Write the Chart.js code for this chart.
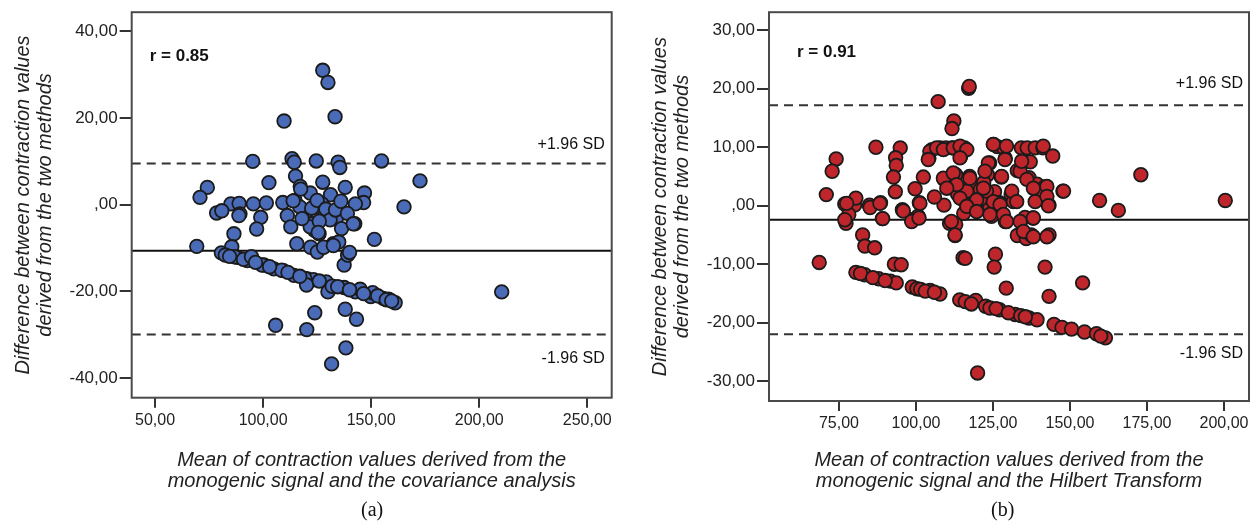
<!DOCTYPE html>
<html><head><meta charset="utf-8">
<script src="https://cdn.jsdelivr.net/npm/chart.js@4"></script>
<style>
body{margin:0;background:#fff;width:1260px;height:531px;overflow:hidden;position:relative;font-family:"Liberation Sans",Arial,sans-serif}
canvas{position:absolute;top:0}
#ca{left:0}
#cb{left:630px}
.cap{position:absolute;top:498px;font-family:"Liberation Serif","Times New Roman",serif;font-size:20px;color:#111}
</style></head><body>
<canvas id="ca" width="630" height="500"></canvas>
<canvas id="cb" width="630" height="500"></canvas>
<div class="cap" style="left:361px">(a)</div>
<div class="cap" style="left:991px">(b)</div>
<script>
// ---------- Panel (a) data ----------
const xValuesA = [127.6,130.0,109.7,133.3,95.2,113.4,114.4,124.6,134.7,135.5,154.8,172.6,115.0,117.2,121.8,127.6,131.2,138.0,146.9,146.5,142.7,165.2,102.7,74.2,70.8,85.1,88.9,95.5,101.5,109.1,114.8,127.2,78.5,80.9,89.3,86.5,98.9,97.0,69.3,80.7,85.5,88.1,92.7,100.4,105.0,109.4,114.3,120.5,123.3,105.8,120.2,123.9,111.2,112.8,115.6,122.0,117.4,119.7,122.8,123.8,86.8,88.8,90.9,94.6,99.5,108.6,119.3,120.1,125.1,121.8,125.9,128.4,129.2,130.0,132.5,132.0,134.2,135.0,136.3,137.5,137.5,139.1,142.4,142.7,144.9,149.8,150.7,151.5,155.6,158.1,161.1,138.0,143.2,138.3,131.7,210.4,82.5,84.5,96.5,103.0,111.5,117.0,126.0,134.5,140.0,146.5,153.0,157.0,159.5,117.0,122.5,125.0,129.0,131.0,133.5,136.0,139.0,126.0,118.0,128.0,140.0,113.9,125.5,132.5,141.7];
const yValuesA = [31.0,28.2,19.3,20.3,10.0,10.6,9.8,10.1,9.8,8.6,10.1,5.5,6.6,4.2,2.7,5.2,2.3,4.0,2.7,0.5,0.2,-0.5,5.1,4.0,1.7,0.2,0.3,0.2,0.4,0.5,1.0,0.2,-1.9,-1.4,-2.1,-6.7,-2.9,-5.6,-9.6,-11.1,-9.7,-12.1,-12.9,-13.9,-14.8,-15.2,-16.3,-17.1,-17.3,-27.8,-28.8,-24.9,-2.5,-5.1,-9.0,-9.8,3.6,-1.8,-4.4,-5.9,-12.0,-2.5,-12.6,-12.0,-13.9,-15.1,-17.0,-18.5,-10.9,-5.1,-6.7,-2.5,-17.8,-20.1,-9.0,-18.8,-2.8,-8.6,-5.5,-19.1,-13.9,-11.6,-4.4,-20.1,-19.5,-21.2,-20.3,-8.0,-21.6,-21.8,-22.6,-24.1,-26.4,-33.0,-36.7,-20.1,-11.6,-11.9,-13.3,-14.3,-15.6,-16.5,-17.6,-18.9,-19.6,-20.5,-21.0,-21.9,-22.2,-0.5,-0.8,1.0,-1.0,-3.5,-1.2,0.8,-2.0,-3.8,-3.2,-9.8,-11.0,0.9,-6.4,-9.4,-4.4];
const meanA = -10.6, upperA = 9.5, lowerA = -29.9;
const xRangeA = [39.2, 261.3], yRangeA = [-44.5, 44.4];
const xTicksA = [50,100,150,200,250];
const yTicksA = [-40,-20,0,20,40];

// ---------- Panel (b) data ----------
const xValuesB = [107.2,117.1,117.3,112.3,111.7,173.0,200.4,159.6,165.7,147.7,74.1,72.8,70.9,87.0,94.9,93.4,93.6,92.7,93.3,99.7,102.4,104.2,105.2,107.8,109.7,111.7,114.2,114.5,115.8,109.1,112.9,111.7,117.4,118.1,120.9,123.2,123.9,125.2,126.4,128.4,129.0,127.7,125.5,130.9,132.9,134.8,137.1,134.2,136.1,138.7,141.2,144.4,136.7,139.3,141.8,141.2,143.2,138.7,131.6,127.1,119.4,115.4,109.1,101.1,95.6,88.5,84.9,80.1,76.9,80.5,68.6,77.3,78.2,82.7,83.4,86.6,89.1,93.0,95.2,98.8,100.7,110.9,112.7,112.9,115.3,116.0,124.5,125.8,125.4,129.3,129.0,132.9,135.8,137.4,138.0,135.4,141.9,143.2,143.2,154.1,120.0,120.0,115.5,118.1,124.0,113.5,116.5,121.0,122.0,106.0,80.5,83.4,87.9,91.7,93.6,98.8,100.3,104.6,107.8,114.2,119.4,122.6,127.1,132.2,136.7,139.3,144.8,147.4,150.5,154.7,158.6,161.5,82.0,86.0,90.0,101.5,103.0,106.0,116.0,118.0,124.0,126.0,130.0,134.0,135.5,160.0,
  101.3,95.9,98.6,101.0,77.5,85.1,88.3,89.2,76.9,104.5,106.7,108.9,112.1,114.3,116.5,104.0,114.3,108.9,112.1,113.2,117.5,110.0,114.3,119.7,116.5,119.7,122.9,125.1,127.3,124.0,128.4,121.9,123.5,122.4,127.8,128.9,133.8,134.3,136.0,131.1,132.7,138.1,142.5,142.5,147.9,143.0,138.1,133.8,134.9,138.1,142.5,129.4,111.5,112.7,125.1,129.4,141.3];
const yValuesB = [17.8,20.1,20.4,14.5,13.2,5.3,0.9,0.9,-0.8,2.5,8.0,5.9,1.9,10.0,9.9,8.2,6.9,4.9,2.4,2.9,4.9,8.1,9.6,9.9,9.9,9.9,9.9,8.4,9.9,4.5,5.3,3.7,5.0,3.7,2.8,5.3,7.3,10.5,10.1,9.9,8.1,4.9,2.4,1.9,6.0,7.6,7.5,9.9,9.9,9.9,9.9,8.5,4.8,3.7,3.2,1.9,0.1,0.7,0.7,0.5,0.7,1.0,0.1,0.5,-0.7,0.5,0.1,0.1,0.3,1.3,-9.7,-3.0,-1.5,-5.0,-6.9,-7.2,-2.2,-10.0,-10.1,-2.4,-1.8,-3.0,-5.1,-3.2,-8.9,-9.0,-1.8,-8.3,-10.5,-14.1,-2.7,-5.1,-5.6,-5.0,-2.1,-2.0,-10.5,-15.5,-5.0,-13.2,-28.6,-0.4,-1.3,0.2,-0.2,2.0,2.5,1.2,4.0,1.5,-11.4,-11.8,-12.5,-12.9,-13.2,-13.9,-14.2,-14.5,-15.1,-16.1,-16.2,-17.2,-17.8,-18.6,-19.2,-19.5,-20.3,-20.8,-21.1,-21.6,-21.9,-22.6,-11.6,-12.3,-12.8,-14.3,-14.6,-14.8,-16.4,-16.8,-17.5,-17.6,-18.3,-18.8,-19.0,-22.3,
  0.4,-0.9,-2.7,-2.1,0.4,-0.3,0.4,-2.2,-2.4,9.3,9.9,9.6,9.9,10.2,9.6,7.9,8.2,4.7,5.6,3.6,4.7,3.0,1.3,1.0,-0.1,-1.0,2.5,0.7,0.2,-1.5,-1.5,3.0,7.3,5.9,5.0,7.9,5.9,7.6,4.5,2.5,0.7,3.0,3.3,1.6,2.5,0.0,-2.1,-2.7,-4.4,-5.3,-5.3,-2.7,-2.7,-5.0,10.5,10.2,10.2];
const meanB = -2.4, upperB = 17.2, lowerB = -22.0;
const xRangeB = [52.3, 208.1], yRangeB = [-33.4, 33.1];
const xTicksB = [75,100,125,150,175,200];
const yTicksB = [-30,-20,-10,0,10,20,30];

const yTitle = ['Difference between contraction values', 'derived from the two methods'];
const xTitleA = ['Mean of contraction values derived from the', 'monogenic signal and the covariance analysis'];
const xTitleB = ['Mean of contraction values derived from the', 'monogenic signal and the Hilbert Transform'];

const FONT = '"Liberation Sans", Arial, sans-serif';
function fmt(v){ v = Number(v); if (v === 0) return ',00'; return v.toFixed(2).replace('.', ','); }

const framePlugin = {
  id: 'frame',
  afterDraw(chart, args, o) {
    const {ctx, chartArea: a} = chart;
    const ys = chart.scales.y;
    ctx.save();
    ctx.strokeStyle = '#4a4a4a'; ctx.lineWidth = 2;
    ctx.strokeRect(a.left, a.top, a.right - a.left, a.bottom - a.top);
    ctx.fillStyle = '#111';
    ctx.textBaseline = 'middle';
    ctx.textAlign = 'left';
    ctx.font = 'bold 17px ' + FONT;
    ctx.fillText(o.r, a.left + o.rdx, a.top + o.rdy);
    ctx.font = '16px ' + FONT;
    ctx.textAlign = 'right';
    ctx.fillText('+1.96 SD', a.right - o.sdx, ys.getPixelForValue(o.upper) - o.upDy);
    ctx.fillText('-1.96 SD', a.right - o.sdx, ys.getPixelForValue(o.lower) + o.loDy);
    ctx.restore();
  }
};

function makePanel(id, o) {
  const pts = o.xs.map((x, i) => ({x: x, y: o.ys[i]}));
  const hline = v => [{x: o.xr[0], y: v}, {x: o.xr[1], y: v}];
  const lineDs = (v, dash, col) => ({type: 'line', data: hline(v), borderColor: col, borderWidth: 2, borderDash: dash, pointRadius: 0, fill: false, order: 1});
  new Chart(document.getElementById(id), {
    type: 'scatter',
    data: {datasets: [
      {data: pts, backgroundColor: o.fill, borderColor: '#1b1b1b', borderWidth: 1.8, pointRadius: 6.8, order: 0},
      lineDs(o.mean, [], '#111'),
      lineDs(o.upper, [9, 6], '#333'),
      lineDs(o.lower, [9, 6], '#333')
    ]},
    options: {
      responsive: false, animation: false, events: [],
      layout: {padding: o.pad},
      plugins: {legend: {display: false}, tooltip: {enabled: false},
        frame: {r: o.r, rdx: o.rdx, rdy: o.rdy, sdx: o.sdx, upDy: o.upDy, loDy: o.loDy, upper: o.upper, lower: o.lower}},
      scales: {
        x: {type: 'linear', min: o.xr[0], max: o.xr[1],
          afterBuildTicks: s => { s.ticks = o.xt.map(v => ({value: v})); },
          afterFit: s => { s.height = o.xh; },
          grid: {drawOnChartArea: false, drawTicks: true, tickLength: 10, color: '#333', lineWidth: 2},
          border: {display: false},
          ticks: {callback: fmt, color: '#222', padding: 3, maxRotation: 0, autoSkip: false, font: {family: FONT, size: 16}},
          title: {display: true, text: o.xTitle, color: '#222', padding: {top: 0, bottom: 6},
            font: {family: FONT, size: 20, style: 'italic', lineHeight: '21px'}}
        },
        y: {type: 'linear', min: o.yr[0], max: o.yr[1],
          afterBuildTicks: s => { s.ticks = o.yt.map(v => ({value: v})); },
          afterFit: s => { s.width = o.yw; },
          grid: {drawOnChartArea: false, drawTicks: true, tickLength: 12, color: '#333', lineWidth: 2},
          border: {display: false},
          ticks: {callback: fmt, color: '#222', padding: 2, autoSkip: false, font: {family: FONT, size: 17}},
          title: {display: true, text: yTitle, color: '#222', padding: {top: o.ytp, bottom: 0},
            font: {family: FONT, size: 20, style: 'italic', lineHeight: '22px'}}
        }
      }
    },
    plugins: [framePlugin]
  });
}

makePanel('ca', {xs: xValuesA, ys: yValuesA, mean: meanA, upper: upperA, lower: lowerA,
  xr: xRangeA, yr: yRangeA, xt: xTicksA, yt: yTicksA, xTitle: xTitleA, fill: '#4a6bb8',
  pad: {left: 0, top: 11, right: 18.3, bottom: 2.3}, xh: 100, yw: 131.7, ytp: 12,
  r: 'r = 0.85', rdx: 18, rdy: 44, sdx: 7, upDy: 19, loDy: 24});
makePanel('cb', {xs: xValuesB, ys: yValuesB, mean: meanB, upper: upperB, lower: lowerB,
  xr: xRangeB, yr: yRangeB, xt: xTicksB, yt: yTicksB, xTitle: xTitleB, fill: '#be262b',
  pad: {left: 0, top: 12, right: 11, bottom: 2.3}, xh: 96.7, yw: 139, ytp: 19,
  r: 'r = 0.91', rdx: 28, rdy: 40, sdx: 6, upDy: 22, loDy: 19});
</script>
</body></html>
